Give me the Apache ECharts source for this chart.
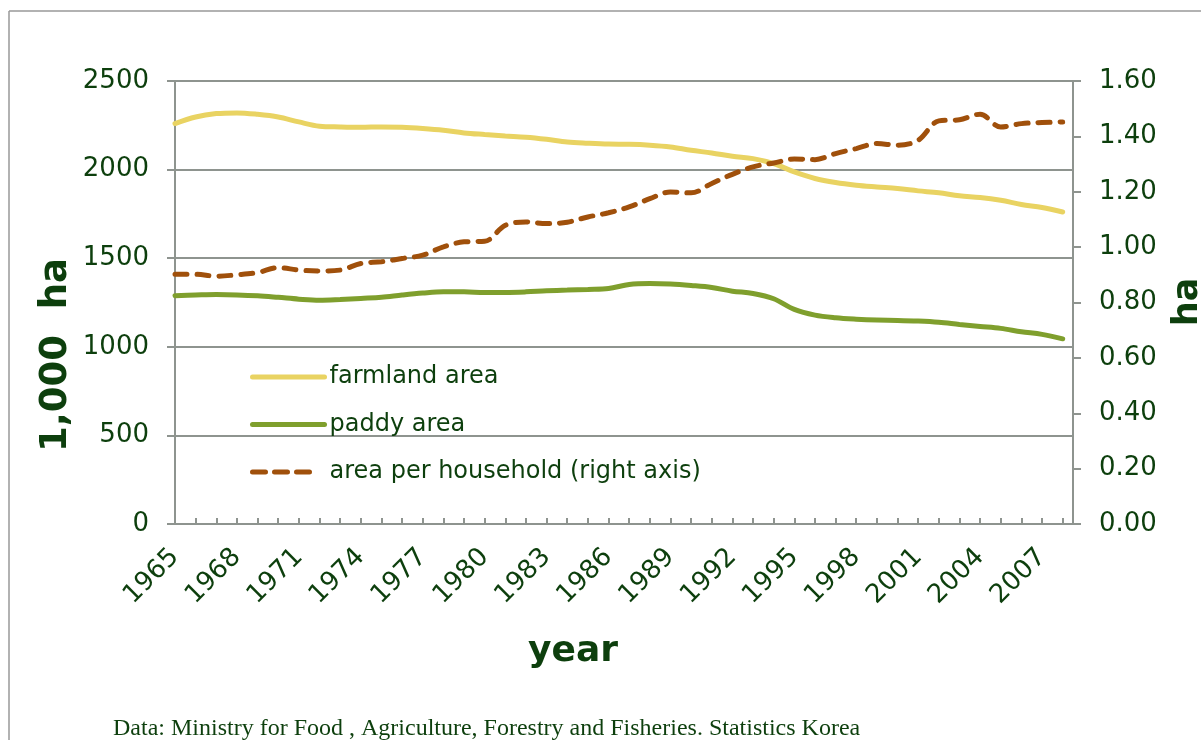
<!DOCTYPE html>
<html>
<head>
<meta charset="utf-8">
<title>Farmland and paddy area, Korea 1965-2008</title>
<script src="https://cdn.jsdelivr.net/npm/echarts@6/dist/echarts.min.js"></script>
<style>
html, body { margin: 0; padding: 0; background: #fff; }
#main { width: 1201px; height: 740px; }
</style>
</head>
<body>
<div id="main"></div>
<script>
const years = [1965, 1966, 1967, 1968, 1969, 1970, 1971, 1972, 1973, 1974,
  1975, 1976, 1977, 1978, 1979, 1980, 1981, 1982, 1983, 1984,
  1985, 1986, 1987, 1988, 1989, 1990, 1991, 1992, 1993, 1994,
  1995, 1996, 1997, 1998, 1999, 2000, 2001, 2002, 2003, 2004,
  2005, 2006, 2007, 2008]
// labelled years on the x axis
const yearLabels = [1965, 1968, 1971, 1974, 1977, 1980, 1983, 1986, 1989, 1992, 1995, 1998, 2001, 2004, 2007]

// 1,000 ha
const farmland = [2260, 2297, 2316, 2320, 2312, 2297, 2269, 2245, 2241, 2239,
  2241, 2239, 2232, 2222, 2207, 2198, 2190, 2183, 2171, 2156,
  2149, 2144, 2143, 2138, 2128, 2109, 2094, 2075, 2062, 2034,
  1987, 1950, 1927, 1912, 1902, 1893, 1880, 1869, 1852, 1843,
  1827, 1803, 1786, 1761]
const paddy = [1288, 1292, 1295, 1293, 1288, 1279, 1269, 1263, 1267, 1273,
  1279, 1292, 1303, 1310, 1310, 1307, 1307, 1310, 1316, 1320,
  1324, 1329, 1352, 1357, 1354, 1346, 1335, 1314, 1301, 1271,
  1211, 1179, 1164, 1156, 1151, 1149, 1145, 1138, 1126, 1115,
  1104, 1085, 1070, 1045]
// ha (right axis)
const perHousehold = [0.902, 0.902, 0.895, 0.900, 0.908, 0.926, 0.917, 0.914, 0.917, 0.941,
  0.947, 0.959, 0.971, 1.001, 1.019, 1.021, 1.079, 1.091, 1.085, 1.090,
  1.109, 1.124, 1.145, 1.175, 1.199, 1.196, 1.230, 1.263, 1.290, 1.304,
  1.318, 1.316, 1.338, 1.356, 1.374, 1.368, 1.386, 1.456, 1.460, 1.480,
  1.434, 1.446, 1.450, 1.452]

const textColor = '#0d3f0d'
const axisGray = '#8e948f'
const font = 'DejaVu Sans'

const pairs = (vals) => years.map((y, i) => [y, vals[i]])

const option = {
  animation: false,
  backgroundColor: '#fff',
  grid: { left: 175, right: 128, top: 81, bottom: 216 },
  legend: {
    orient: 'vertical',
    left: 250,
    top: 365,
    padding: 0,
    itemWidth: 72,
    itemHeight: 20,
    itemGap: 23.5,
    itemStyle: { opacity: 0 },
    lineStyle: { width: 5, cap: 'round' },
    textStyle: { color: textColor, fontFamily: font, fontSize: 24, lineHeight: 24 },
    data: [
      'farmland area',
      'paddy area',
      { name: 'area per household (right axis)', lineStyle: { width: 5, type: [13, 9, 13, 9, 13, 40], cap: 'round' } }
    ]
  },
  xAxis: {
    type: 'value',
    min: 1965,
    max: 2008.5,
    interval: 1,
    splitLine: { show: false },
    axisLine: { lineStyle: { color: axisGray, width: 2 } },
    axisTick: { inside: true, length: 6, lineStyle: { color: axisGray, width: 2 } },
    axisLabel: {
      rotate: 45,
      margin: 29,
      color: textColor,
      fontFamily: font,
      fontSize: 26,
      showMaxLabel: false,
      formatter: (v) => (yearLabels.indexOf(v) >= 0 ? String(v) : '')
    }
  },
  yAxis: [
    {
      type: 'value',
      min: 0,
      max: 2500,
      interval: 500,
      axisLine: { show: true, lineStyle: { color: axisGray, width: 2 } },
      axisTick: { show: true, length: 8, lineStyle: { color: axisGray, width: 2 } },
      splitLine: { lineStyle: { color: axisGray, width: 2 } },
      axisLabel: { margin: 26, color: textColor, fontFamily: font, fontSize: 26, formatter: (v) => String(v) }
    },
    {
      type: 'value',
      min: 0,
      max: 1.6,
      interval: 0.2,
      position: 'right',
      axisLine: { show: true, lineStyle: { color: axisGray, width: 2 } },
      axisTick: { show: true, length: 8, lineStyle: { color: axisGray, width: 2 } },
      splitLine: { show: false },
      axisLabel: {
        margin: 26, color: textColor, fontFamily: font, fontSize: 26,
        formatter: (v) => v.toFixed(2)
      }
    }
  ],
  series: [
    {
      name: 'farmland area',
      type: 'line',
      yAxisIndex: 0,
      symbol: 'none',
      smooth: 0.35,
      lineStyle: { color: '#e9d362', width: 5, cap: 'round' },
      itemStyle: { color: '#e9d362' },
      data: pairs(farmland)
    },
    {
      name: 'paddy area',
      type: 'line',
      yAxisIndex: 0,
      symbol: 'none',
      smooth: 0.35,
      lineStyle: { color: '#7f9f2d', width: 5, cap: 'round' },
      itemStyle: { color: '#7f9f2d' },
      data: pairs(paddy)
    },
    {
      name: 'area per household (right axis)',
      type: 'line',
      yAxisIndex: 1,
      symbol: 'none',
      smooth: 0.35,
      lineStyle: { color: '#a0500b', width: 5, type: [12, 10], cap: 'round' },
      itemStyle: { color: '#a0500b' },
      data: pairs(perHousehold)
    }
  ],
  graphic: [
    { type: 'line', shape: { x1: 9, y1: 11, x2: 9, y2: 740 }, style: { stroke: '#999', lineWidth: 1.5 } },
    { type: 'line', shape: { x1: 9, y1: 11, x2: 1201, y2: 11 }, style: { stroke: '#999', lineWidth: 1.5 } },
    {
      type: 'text', x: 56, y: 355, rotation: Math.PI / 2,
      style: { text: '1,000  ha', fill: textColor, font: 'bold 37px "DejaVu Sans"', align: 'center', verticalAlign: 'middle' }
    },
    {
      type: 'text', x: 1188, y: 302, rotation: Math.PI / 2,
      style: { text: 'ha', fill: textColor, font: 'bold 35px "DejaVu Sans"', align: 'center', verticalAlign: 'middle' }
    },
    {
      type: 'text', x: 573, y: 652,
      style: { text: 'year', fill: textColor, font: 'bold 36px "DejaVu Sans"', align: 'center', verticalAlign: 'middle' }
    },
    {
      type: 'text', x: 113, y: 741,
      style: {
        text: 'Data: Ministry for Food , Agriculture, Forestry and Fisheries. Statistics Korea',
        fill: textColor, font: '24px "Liberation Serif"', align: 'left', verticalAlign: 'bottom'
      }
    }
  ]
}

const chart = echarts.init(document.getElementById('main'))
chart.setOption(option)
</script>
</body>
</html>
